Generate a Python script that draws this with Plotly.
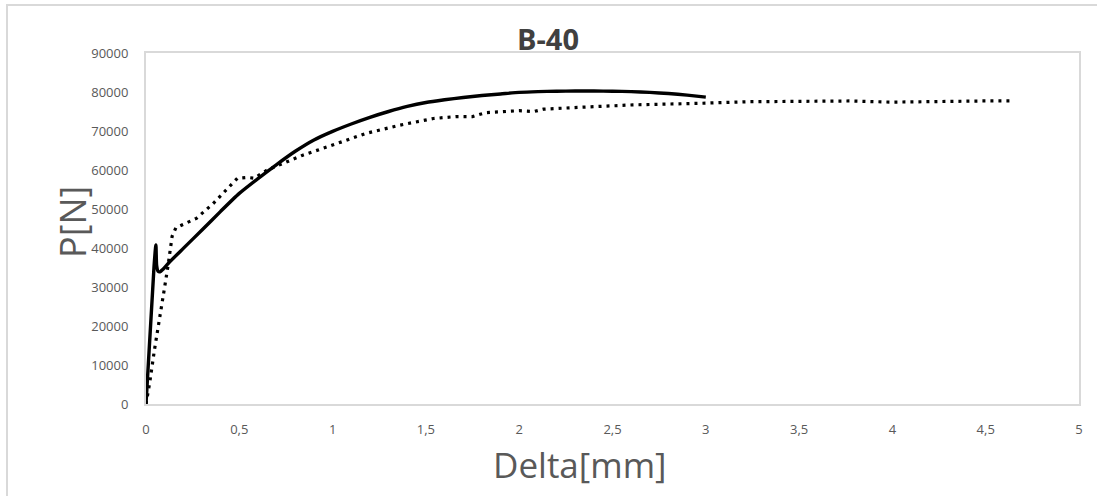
import plotly.graph_objects as go

# Solid series
solid_x = [0, 0.043, 0.053, 0.057, 0.065, 0.075, 0.09, 0.12, 0.2, 0.3, 0.4, 0.5, 0.6, 0.7, 0.8,
           0.9, 1.0, 1.1, 1.2, 1.3, 1.4, 1.5, 1.6, 1.7, 1.8, 1.9, 2.0, 2.1, 2.2, 2.3, 2.4,
           2.5, 2.6, 2.7, 2.8, 2.9, 3.0]
solid_y = [0, 35200, 40800, 35500, 34000, 33900, 34500, 36100, 39900, 44600, 49400, 54000, 57800,
           61400, 64800, 67700, 69900, 71800, 73500, 75000, 76300, 77300, 78000, 78600, 79100,
           79500, 79900, 80100, 80200, 80250, 80250, 80200, 80100, 79900, 79600, 79200, 78700]

# Dotted series
dot_x = [0, 0.02, 0.045, 0.075, 0.1, 0.12, 0.14, 0.16, 0.2, 0.27, 0.36, 0.45, 0.49, 0.54, 0.58,
         0.65, 0.74, 0.81, 0.84, 1.0, 1.18, 1.36, 1.54, 1.66, 1.75, 1.82, 2.0, 2.08, 2.13, 2.34,
         2.61, 2.97, 3.22, 3.77, 4.0, 4.48, 4.65]
dot_y = [0, 5500, 13800, 22000, 30000, 36100, 43000, 45200, 46000, 47600, 51400, 55700, 57900,
         58100, 57900, 60000, 61700, 63200, 63800, 66400, 69400, 71500, 73200, 73700, 73700,
         74700, 75200, 75000, 75600, 76100, 76700, 77100, 77500, 77700, 77400, 77700, 77700]

title_text = "B-40"
x_title = "Delta[mm]"
y_title = "P[N]"

W, H = 1097, 496
L, R, T, B = 146, 18, 53, 92
pw, ph = W - L - R, H - T - B


def px_x(px):
    return (px - L) / pw


def px_y(py):
    return (H - B - py) / ph


fig = go.Figure()
fig.add_trace(go.Scatter(x=dot_x, y=dot_y, mode="lines",
                         line=dict(color="black", width=3.2, dash="3px,5px"),
                         hoverinfo="skip"))
fig.add_trace(go.Scatter(x=solid_x, y=solid_y, mode="lines",
                         line=dict(color="black", width=3.4, shape="spline", smoothing=0.6),
                         hoverinfo="skip"))

grid = "#d9d9d9"
tickfont = dict(family="Open Sans", size=13, color="#595959")
fig.update_layout(
    width=W, height=H,
    margin=dict(l=L, r=R, t=T, b=B, pad=0),
    paper_bgcolor="white", plot_bgcolor="white",
    showlegend=False,
    separators=",.",
    title=dict(text=f"<b>{title_text}</b>", x=548 / W, xref="container", xanchor="center",
               y=1 - 40 / H, yref="container", yanchor="middle",
               font=dict(family="Open Sans", size=29, color="#404040")),
    xaxis=dict(range=[0, 5], dtick=0.5, tick0=0, showgrid=False, zeroline=False,
               showline=True, mirror=True, linecolor=grid, linewidth=2,
               ticks="", ticklabelstandoff=12, tickfont=tickfont),
    yaxis=dict(range=[0, 90000], dtick=10000, tick0=0, tickformat="d", showgrid=False,
               zeroline=False, showline=True, mirror=True, linecolor=grid, linewidth=2,
               ticks="", ticklabelstandoff=13, tickfont=tickfont),
    annotations=[
        dict(text=y_title, x=px_x(72), y=px_y(222), xref="paper", yref="paper",
             showarrow=False, textangle=-90, xanchor="center", yanchor="middle",
             font=dict(family="Open Sans", size=36, color="#595959")),
        dict(text=x_title, x=px_x(580), y=px_y(464), xref="paper", yref="paper",
             showarrow=False, xanchor="center", yanchor="middle",
             font=dict(family="Open Sans", size=35, color="#595959")),
    ],
    shapes=[
        dict(type="rect", xref="paper", yref="paper",
             x0=px_x(7), x1=px_x(1110), y0=px_y(510), y1=px_y(5),
             line=dict(color=grid, width=2), fillcolor="rgba(0,0,0,0)", layer="below"),
    ],
)

fig.write_html("out.html")
